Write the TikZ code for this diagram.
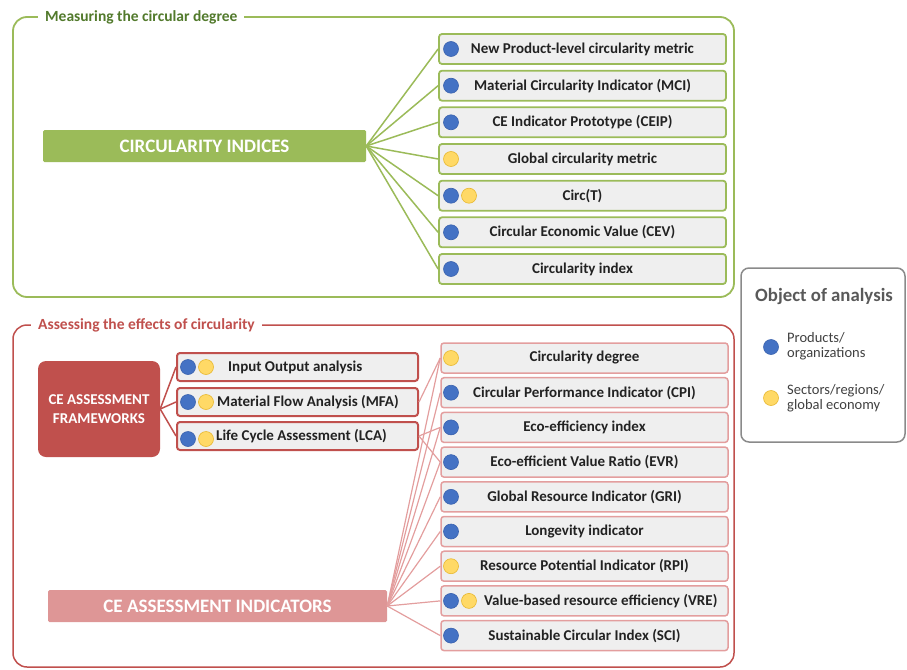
\documentclass[tikz,border=0pt]{standalone}
\usepackage{fontspec}
\setmainfont{Carlito}
\definecolor{gframe}{HTML}{9BBB59}
\definecolor{gtitle}{HTML}{527A2C}
\definecolor{gbar}{HTML}{9BBB59}
\definecolor{rframe}{HTML}{C0504D}
\definecolor{rlight}{HTML}{E39E9E}
\definecolor{rbar}{HTML}{DE9696}
\definecolor{boxfill}{HTML}{EFEFEF}
\definecolor{dotblue}{HTML}{4472C4}
\definecolor{dotblueb}{HTML}{3A62AE}
\definecolor{dotyellow}{HTML}{FFD966}
\definecolor{dotyellowb}{HTML}{E8B830}
\definecolor{legendgray}{HTML}{8A8A8A}
\definecolor{txt}{HTML}{222222}
\begin{document}
\begin{tikzpicture}[x=1pt,y=-1pt,
  itemfont/.style={font=\fontsize{15}{18}\selectfont\bfseries, text=txt},
  gbox/.style={draw=gframe, line width=1.8pt, fill=boxfill, rounded corners=3pt, minimum width=287pt, minimum height=30pt, inner sep=0pt, itemfont},
  rbox/.style={draw=rlight, line width=1.5pt, fill=boxfill, rounded corners=3pt, minimum width=287pt, minimum height=30pt, inner sep=0pt, itemfont},
  fwbox/.style={draw=rframe, line width=2pt, fill=boxfill, rounded corners=3pt, minimum width=241pt, minimum height=28pt, inner sep=0pt},
  fwtext/.style={anchor=west, inner sep=0pt, itemfont},
  bdot/.style={circle, draw=dotblueb, fill=dotblue, line width=0.6pt, minimum size=15pt, inner sep=0pt},
  ydot/.style={circle, draw=dotyellowb, fill=dotyellow, line width=0.6pt, minimum size=15pt, inner sep=0pt},
  gline/.style={draw=gframe, line width=1.5pt},
  rline/.style={draw=rlight, line width=1.2pt},
  fwline/.style={draw=rframe, line width=1.5pt},
  frametitle/.style={anchor=west, fill=white, inner xsep=7pt, inner ysep=1pt, font=\fontsize{15.5}{18}\selectfont\bfseries},
]
\useasboundingbox (0,0) rectangle (907,669);

% ---------- Frames ----------
\draw[gframe, line width=1.8pt, rounded corners=14pt] (13,17) rectangle (734,297);
\node[frametitle, text=gtitle] (gtitle) at (38,17) {Measuring the circular degree};
\draw[rframe, line width=1.5pt, rounded corners=14pt] (13,325) rectangle (734,667);
\node[frametitle, text=rframe] (rtitle) at (31,325) {Assessing the effects of circularity};

% ---------- Circularity indices ----------
\node[fill=gbar, minimum width=323pt, minimum height=32pt, inner sep=0pt, rounded corners=1.5pt,
      font=\fontsize{19}{22}\selectfont\bfseries, text=white] (ci) at (204.5,146) {CIRCULARITY INDICES};

\node[gbox] (g1) at (582.5,49) {New Product-level circularity metric};
\node[gbox] (g2) at (582.5,85.7) {Material Circularity Indicator (MCI)};
\node[gbox] (g3) at (582.5,122.3) {CE Indicator Prototype (CEIP)};
\node[gbox] (g4) at (582.5,159) {Global circularity metric};
\node[gbox] (g5) at (582.5,195.7) {Circ(T)};
\node[gbox] (g6) at (582.5,232.3) {Circular Economic Value (CEV)};
\node[gbox] (g7) at (582.5,269) {Circularity index};

\foreach \i in {1,...,7} { \draw[gline] (ci.east) -- (g\i.west); }

\node[bdot] (g1b) at (451,49) {};
\node[bdot] (g2b) at (451,85.7) {};
\node[bdot] (g3b) at (451,122.3) {};
\node[ydot] (g4y) at (451,159) {};
\node[bdot] (g5b) at (451,195.7) {};
\node[ydot] (g5y) at (469,195.7) {};
\node[bdot] (g6b) at (451,232.3) {};
\node[bdot] (g7b) at (451,269) {};

% ---------- Frameworks ----------
\node[fill=rframe, minimum width=122pt, minimum height=96pt, inner sep=0pt, rounded corners=8pt,
      align=center, font=\fontsize{15}{19}\selectfont\bfseries, text=white] (fw) at (99,409) {CE ASSESSMENT\\FRAMEWORKS};

\node[fwbox] (f1) at (297.5,367) {};
\node[fwbox] (f2) at (297.5,402) {};
\node[fwbox] (f3) at (297.5,436) {};
\foreach \i in {1,2,3} { \draw[fwline] (fw.east) -- (f\i.west); }
\node[fwtext] (f1t) at (228,367) {Input Output analysis};
\node[fwtext] (f2t) at (217,402) {Material Flow Analysis (MFA)};
\node[fwtext] (f3t) at (216,436) {Life Cycle Assessment (LCA)};
\node[bdot] (f1b) at (188,367) {};
\node[ydot] (f1y) at (206,367) {};
\node[bdot] (f2b) at (188,402) {};
\node[ydot] (f2y) at (206,402) {};
\node[bdot] (f3b) at (188,439) {};
\node[ydot] (f3y) at (206,439) {};

% ---------- Indicators ----------
\node[fill=rbar, minimum width=339pt, minimum height=32pt, inner sep=0pt, rounded corners=1.5pt,
      font=\fontsize{19}{22}\selectfont\bfseries, text=white] (ind) at (217.5,606) {CE ASSESSMENT INDICATORS};

\node[rbox] (r1) at (584.5,358) {Circularity degree};
\node[rbox] (r2) at (584.5,392.7) {Circular Performance Indicator (CPI)};
\node[rbox] (r3) at (584.5,427.4) {Eco-efficiency index};
\node[rbox] (r4) at (584.5,462.1) {Eco-efficient Value Ratio (EVR)};
\node[rbox] (r5) at (584.5,496.8) {Global Resource Indicator (GRI)};
\node[rbox] (r6) at (584.5,531.5) {Longevity indicator};
\node[rbox] (r7) at (584.5,566.2) {Resource Potential Indicator (RPI)};
\node[rbox] (r8) at (584.5,600.9) {};
\node[fwtext] (r8t) at (484,600.9) {Value-based resource efficiency (VRE)};
\node[rbox] (r9) at (584.5,635.6) {Sustainable Circular Index (SCI)};

\foreach \i in {1,...,9} { \draw[rline] (ind.east) -- (r\i.west); }
\draw[rline] (f2.east) -- (r1.west);
\draw[rline] (f3.east) -- (r3.west);
\draw[rline] (f3.east) -- (r4.west);

\node[ydot] (r1y) at (451,358) {};
\node[bdot] (r2b) at (451,392.7) {};
\node[bdot] (r3b) at (451,427.4) {};
\node[bdot] (r4b) at (451,462.1) {};
\node[bdot] (r5b) at (451,496.8) {};
\node[bdot] (r6b) at (451,531.5) {};
\node[ydot] (r7y) at (451,566.2) {};
\node[bdot] (r8b) at (451,600.9) {};
\node[ydot] (r8y) at (469,600.9) {};
\node[bdot] (r9b) at (451,635.6) {};

% ---------- Legend ----------
\node[draw=legendgray, line width=1.5pt, rounded corners=8pt, minimum width=164pt, minimum height=174pt, inner sep=0pt] (leg) at (823,355) {};
\node[anchor=west, inner sep=0pt, font=\fontsize{18.8}{21}\selectfont\bfseries, text=black!65] (legt) at (755,296) {Object of analysis};
\node[bdot] (legb) at (771,347) {};
\node[ydot] (legy) at (771,398) {};
\node[anchor=west, inner sep=0pt, align=left, font=\fontsize{14.5}{15}\selectfont, text=black!75] (legbt) at (787,346) {Products/\\organizations};
\node[anchor=west, inner sep=0pt, align=left, font=\fontsize{14.5}{15}\selectfont, text=black!75] (legyt) at (787,398) {Sectors/regions/\\global economy};
\end{tikzpicture}
\end{document}
